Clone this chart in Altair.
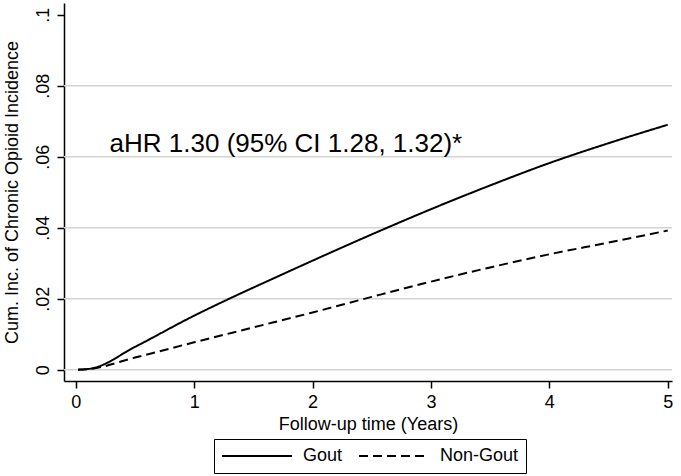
import altair as alt
import pandas as pd

# Cumulative incidence of chronic opioid use by follow-up year
gout_years = [0.02, 0.13, 0.5, 1.0, 1.33, 1.67, 2.0, 2.5, 3.0, 3.5, 4.0, 4.5, 5.0]
gout_cuminc = [0.0, 0.0003, 0.0064, 0.0152, 0.0205, 0.0257, 0.0307, 0.0381, 0.0452, 0.0519, 0.0582, 0.0638, 0.0690]

nongout_years = [0.02, 0.12, 0.5, 1.0, 1.5, 2.0, 2.5, 3.0, 3.5, 4.0, 4.5, 5.0]
nongout_cuminc = [0.0, 0.0002, 0.0034, 0.0077, 0.0119, 0.0161, 0.0205, 0.0248, 0.0288, 0.0325, 0.0358, 0.0392]

groups = ["Gout", "Non-Gout"]
x_ticks = [0, 1, 2, 3, 4, 5]
y_ticks = [0, 0.02, 0.04, 0.06, 0.08, 0.1]
grid_vals = [0, 0.02, 0.04, 0.06, 0.08]

note_text = ["aHR 1.30 (95% CI 1.28, 1.32)*"]
note_x = [0.286]
note_y = [0.0613]

FONT = "Liberation Sans"

curves = pd.DataFrame(
    {"years": gout_years + nongout_years,
     "cuminc": gout_cuminc + nongout_cuminc,
     "group": [groups[0]] * len(gout_years) + [groups[1]] * len(nongout_years)}
)
grid_df = pd.DataFrame({"v": grid_vals})
note_df = pd.DataFrame({"x": note_x, "y": note_y, "label": note_text})

x_scale = alt.Scale(domain=[-0.099, 5.036], nice=False, zero=False)
y_scale = alt.Scale(domain=[-0.0032, 0.1033], nice=False, zero=False)

x_axis = alt.Axis(
    values=x_ticks, format="d", title="Follow-up time (Years)",
    grid=False, domainColor="black", domainWidth=1.5,
    tickColor="black", tickWidth=1.5, tickSize=7,
    labelFontSize=18, labelColor="black", labelFont=FONT, labelPadding=5,
    titleFontSize=18, titleFont=FONT, titleFontWeight="normal", titleColor="black",
    titlePadding=4,
)
y_axis = alt.Axis(
    values=y_ticks,
    labelExpr="datum.value == 0 ? '0' : replace(format(datum.value, '~g'), '0.', '.')",
    title="Cum. Inc. of Chronic Opioid Incidence",
    grid=False, domainColor="black", domainWidth=1.5,
    tickColor="black", tickWidth=1.5, tickSize=7,
    labelFontSize=18, labelColor="black", labelFont=FONT, labelPadding=5,
    labelAngle=-90, labelAlign="center", labelBaseline="bottom",
    titleFontSize=18, titleFont=FONT, titleFontWeight="normal", titleColor="black",
    titlePadding=13,
)

grid = alt.Chart(grid_df).mark_rule(color="#d4d4d4", strokeWidth=1.5).encode(
    y=alt.Y("v:Q", scale=y_scale, axis=y_axis),
    x=alt.value(0),
    x2=alt.value(608),
)

lines = alt.Chart(curves).mark_line(color="black", strokeWidth=2, interpolate="monotone").encode(
    x=alt.X("years:Q", scale=x_scale, axis=x_axis),
    y=alt.Y("cuminc:Q", scale=y_scale, axis=y_axis),
    strokeDash=alt.StrokeDash(
        "group:N",
        scale=alt.Scale(domain=groups, range=[[1, 0], [9, 5]]),
        legend=alt.Legend(
            title=None, orient="none", legendX=150, legendY=436,
            direction="horizontal", symbolType="stroke", symbolSize=4900,
            clipHeight=20,
            symbolStrokeWidth=2, symbolStrokeColor="black",
            labelFontSize=18, labelFont=FONT, labelColor="black", labelOffset=10,
            columnPadding=15, padding=7, strokeColor="black",
        ),
    ),
    detail="group:N",
)

note = alt.Chart(note_df).mark_text(
    align="left", baseline="alphabetic", fontSize=26, font=FONT, color="black"
).encode(
    x=alt.X("x:Q", scale=x_scale),
    y=alt.Y("y:Q", scale=y_scale),
    text="label:N",
)

chart = (
    alt.layer(grid, lines, note)
    .properties(
        width=608,
        height=378,
        autosize=alt.AutoSizeParams(type="none"),
        padding={"left": 64, "top": 3, "right": 9, "bottom": 95},
        background="white",
    )
    .configure_view(stroke=None)
)

chart.save("out.html", embed_options={"renderer": "svg", "actions": False})
